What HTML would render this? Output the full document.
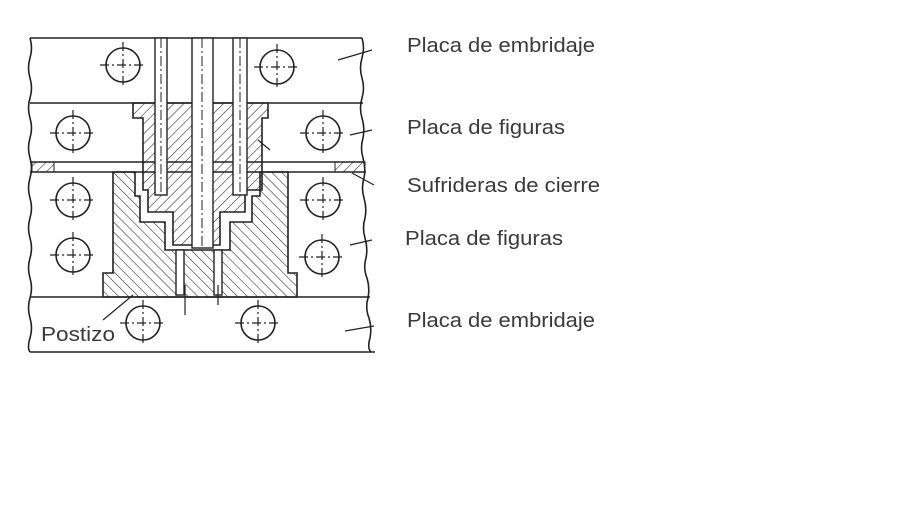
<!DOCTYPE html><html><head><style>body{margin:0;background:#fff}svg{display:block}text{font-family:"Liberation Sans",sans-serif;fill:#3a3a3a}</style></head><body>
<svg width="911" height="512" viewBox="0 0 911 512" xmlns="http://www.w3.org/2000/svg">
<defs>
<pattern id="h1" width="7" height="7" patternUnits="userSpaceOnUse" patternTransform="rotate(45)"><line x1="0" y1="0" x2="0" y2="7" stroke="#222" stroke-width="1.1"/></pattern>
<pattern id="h2" width="7" height="7" patternUnits="userSpaceOnUse" patternTransform="rotate(-45)"><line x1="0" y1="0" x2="0" y2="7" stroke="#222" stroke-width="1.1"/></pattern>
<g id="c"><circle r="17" fill="none" stroke="#222" stroke-width="1.6"/><line x1="-23" y1="0" x2="23" y2="0" stroke="#222" stroke-width="1.2" stroke-dasharray="9,3,2,3"/><line x1="0" y1="-23" x2="0" y2="23" stroke="#222" stroke-width="1.2" stroke-dasharray="9,3,2,3"/></g>
</defs>
<g stroke="#222" stroke-width="1.6" fill="none">
<path d="M30,38 L362,38 M30,103 L363,103 M30,162 L365,162 M30,172 L366,172 M30,297 L370,297 M30,352 L375,352"/>
<path d="M30,38 q3,10 0,20 q-3,10 0,20 q3,10 0,20 q-3,10 0,20 q3,10 0,20 q-3,10 0,20 q3,10 0,20 q-3,10 0,20 q3,10 0,20 q-3,10 0,20 q3,10 0,20 q-3,10 0,20 q3,10 0,20 q-3,10 0,20 q3,10 0,20 q-3,10 0,14"/>
<path d="M362,38 q3,10 0,20 q-3,10 0,20 q3,10 0,20 q-3,10 0,20 q3,10 1,20 q-3,10 0,20 q3,10 1,20 q-3,10 0,20 q3,10 1,20 q-3,10 0,20 q3,10 1,20 q-3,10 1,20 q3,10 1,20 q-3,10 1,20 q3,10 1,20 q-3,10 1,14"/>
</g>
<rect x="32" y="162" width="22" height="10" fill="url(#h1)" stroke="#222" stroke-width="1"/>
<rect x="335" y="162" width="30" height="10" fill="url(#h1)" stroke="#222" stroke-width="1"/>
<polygon points="103,297 297,297 297,273 288,273 288,172 260,172 260,196 252,196 252,222 230,222 230,250 165,250 165,222 140,222 140,196 135,196 135,172 113,172 113,273 103,273" fill="url(#h2)" stroke="#222" stroke-width="1.6"/>
<polygon points="133,103 268,103 268,118 262,118 262,190 245,190 245,212 220,212 220,245 173,245 173,212 148,212 148,190 143,190 143,118 133,118" fill="url(#h1)" stroke="#222" stroke-width="1.6"/>
<g fill="#fff" stroke="#222" stroke-width="1.4">
<rect x="155" y="38" width="12" height="157"/><rect x="233" y="38" width="14" height="157"/><rect x="192" y="38" width="21" height="210"/>
<rect x="176" y="250" width="8" height="45"/><rect x="214" y="250" width="8" height="45"/>
</g>
<g stroke="#222" stroke-width="1" stroke-dasharray="10,3,2,3"><line x1="161" y1="38" x2="161" y2="195"/><line x1="240" y1="38" x2="240" y2="195"/><line x1="202" y1="38" x2="202" y2="248"/></g>
<use href="#c" x="123" y="65"/><use href="#c" x="277" y="67"/><use href="#c" x="73" y="133"/><use href="#c" x="323" y="133"/><use href="#c" x="73" y="200"/><use href="#c" x="323" y="200"/><use href="#c" x="73" y="255"/><use href="#c" x="322" y="257"/><use href="#c" x="143" y="323"/><use href="#c" x="258" y="323"/>
<g stroke="#222" stroke-width="1.2" fill="none"><path d="M372,50 L338,60 M372,130 L350,135 M374,185 L352,173 M372,240 L350,245 M374,326 L345,331 M103,320 L133,295 M258,140 L270,150 M185,315 L185,285 M218,305 L218,285"/></g>
<text x="407" y="52" font-size="20" textLength="188" lengthAdjust="spacingAndGlyphs">Placa de embridaje</text>
<text x="407" y="134" font-size="20" textLength="158" lengthAdjust="spacingAndGlyphs">Placa de figuras</text>
<text x="407" y="192" font-size="20" textLength="193" lengthAdjust="spacingAndGlyphs">Sufrideras de cierre</text>
<text x="405" y="245" font-size="20" textLength="158" lengthAdjust="spacingAndGlyphs">Placa de figuras</text>
<text x="407" y="327" font-size="20" textLength="188" lengthAdjust="spacingAndGlyphs">Placa de embridaje</text>
<text x="41" y="341" font-size="20" textLength="74" lengthAdjust="spacingAndGlyphs">Postizo</text>
</svg>
</body></html>
